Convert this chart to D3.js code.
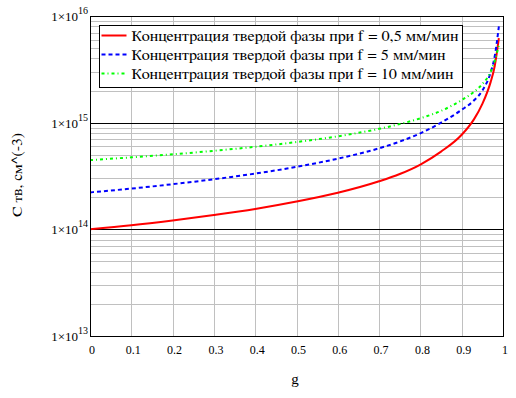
<!DOCTYPE html>
<html>
<head>
<meta charset="utf-8">
<script src="https://cdn.jsdelivr.net/npm/d3@7"></script>
<style>
  body { margin: 0; background: #fff; }
</style>
</head>
<body>
<div id="chart"></div>
<script>
// доля закристаллизованного вещества g
const gValues = [0, 0.1, 0.2, 0.3, 0.4, 0.5, 0.6, 0.7, 0.75, 0.8, 0.85, 0.9, 0.93, 0.95, 0.97, 0.98, 0.99];

// концентрация твердой фазы, см^-3
const cF05 = [1.00e14, 1.09e14, 1.21e14, 1.36e14, 1.55e14, 1.82e14, 2.20e14, 2.82e14, 3.30e14, 4.05e14, 5.35e14, 7.70e14, 1.08e15, 1.50e15, 2.40e15, 3.40e15, 6.20e15];
const cF5 = [2.22e14, 2.41e14, 2.65e14, 2.95e14, 3.33e14, 3.85e14, 4.60e14, 5.75e14, 6.65e14, 7.95e14, 1.00e15, 1.32e15, 1.62e15, 2.00e15, 2.95e15, 4.20e15, 8.00e15];
const cF10 = [4.46e14, 4.73e14, 5.05e14, 5.45e14, 5.94e14, 6.58e14, 7.45e14, 8.75e14, 9.70e14, 1.10e15, 1.29e15, 1.63e15, 1.95e15, 2.30e15, 3.00e15, 3.80e15, 5.30e15];

const seriesNames = [
  'Концентрация твердой фазы при f = 0,5 мм/мин',
  'Концентрация твердой фазы при f = 5 мм/мин',
  'Концентрация твердой фазы при f = 10 мм/мин'
];
const xTicks = [0, 0.1, 0.2, 0.3, 0.4, 0.5, 0.6, 0.7, 0.8, 0.9, 1];
const yDecades = [13, 14, 15, 16];

// Liberation Serif здесь без кириллицы, поэтому для русских подписей — FreeSerif
const FONT = '"Liberation Serif", serif';
const FONT_RU = 'FreeSerif, "Liberation Serif", serif';

const margin = { top: 16, right: 13, bottom: 62, left: 90 },
  width = 516 - margin.left - margin.right,
  height = 398 - margin.top - margin.bottom;

const svg = d3.select('#chart').append('svg')
  .attr('width', 516)
  .attr('height', 398)
  .attr('font-family', FONT);
const g = svg.append('g')
  .attr('transform', 'translate(' + margin.left + ',' + margin.top + ')');

const xScale = d3.scaleLinear().domain([0, 1]).range([0, width]);
const yScale = d3.scaleLog().domain([1e13, 1e16]).range([height, 0]);

// сетка: промежуточные линии (2..9 в каждой декаде)
const minor = [];
yDecades.slice(0, -1).forEach(e => {
  for (let m = 2; m <= 9; m++) minor.push(m * Math.pow(10, e));
});
g.append('g').selectAll('line.minor')
  .data(minor).enter().append('line')
  .attr('x1', 0).attr('x2', width)
  .attr('y1', d => Math.round(yScale(d)) + 0.5)
  .attr('y2', d => Math.round(yScale(d)) + 0.5)
  .attr('stroke', '#c0c0c0').attr('stroke-width', 1);

g.append('g').selectAll('line.vx')
  .data(xTicks.slice(1, -1)).enter().append('line')
  .attr('x1', d => Math.round(xScale(d)) + 0.5)
  .attr('x2', d => Math.round(xScale(d)) + 0.5)
  .attr('y1', 0).attr('y2', height)
  .attr('stroke', '#c0c0c0').attr('stroke-width', 1);

// декады — черные линии
g.append('g').selectAll('line.major')
  .data(yDecades.slice(1, -1)).enter().append('line')
  .attr('x1', 0).attr('x2', width)
  .attr('y1', d => Math.round(yScale(Math.pow(10, d))) + 0.5)
  .attr('y2', d => Math.round(yScale(Math.pow(10, d))) + 0.5)
  .attr('stroke', '#000').attr('stroke-width', 1);

// оси
const xAxis = d3.axisBottom(xScale).tickValues(xTicks).tickSize(0).tickPadding(9)
  .tickFormat(d => String(d));
const gx = g.append('g')
  .attr('transform', 'translate(0,' + height + ')')
  .call(xAxis)
  .attr('font-family', FONT)
  .attr('font-size', 12);
gx.select('.domain').remove();
gx.selectAll('text')
  .attr('dx', '1.5')
  .attr('fill', '#000');

const yLabels = g.append('g');
yDecades.forEach(e => {
  const t = yLabels.append('text')
    .attr('x', -2)
    .attr('y', yScale(Math.pow(10, e)) + 5)
    .attr('text-anchor', 'end')
    .attr('font-size', 13);
  t.append('tspan').text('1×10');
  t.append('tspan').attr('dy', -7).attr('font-size', 10).text(String(e));
});

// линии
const lineGen = d3.line()
  .x(d => xScale(d[0]))
  .y(d => yScale(d[1]))
  .curve(d3.curveMonotoneX);

const series = [
  { values: cF05, color: '#ff0000', dash: null, textW: 327 },
  { values: cF5, color: '#0000ff', dash: '4,3', textW: 314 },
  { values: cF10, color: '#00ff00', dash: '3,3,1,3', textW: 322 }
];

g.append('defs').append('clipPath').attr('id', 'clip')
  .append('rect').attr('width', width).attr('height', height);

series.forEach(s => {
  g.append('path')
    .attr('clip-path', 'url(#clip)')
    .attr('d', lineGen(gValues.map((x, i) => [x, s.values[i]])))
    .attr('fill', 'none')
    .attr('stroke', s.color)
    .attr('stroke-width', 2)
    .attr('stroke-dasharray', s.dash);
});

// рамка
g.append('rect')
  .attr('x', 0.5).attr('y', 0.5)
  .attr('width', width).attr('height', height)
  .attr('fill', 'none').attr('stroke', '#000').attr('stroke-width', 1);

// легенда
const legend = g.append('g').attr('transform', 'translate(9.5,9.5)');
legend.append('rect')
  .attr('width', 363).attr('height', 62)
  .attr('fill', '#fff').attr('stroke', '#000').attr('stroke-width', 1);
series.forEach((s, i) => {
  const y = 10 + i * 19;
  legend.append('line')
    .attr('x1', 2).attr('x2', 27).attr('y1', y).attr('y2', y)
    .attr('stroke', s.color).attr('stroke-width', 2)
    .attr('stroke-dasharray', s.dash);
  legend.append('text')
    .attr('x', 32).attr('y', y + 5)
    .attr('font-family', FONT_RU)
    .attr('font-size', 15)
    .attr('textLength', s.textW)
    .attr('lengthAdjust', 'spacingAndGlyphs')
    .text(seriesNames[i]);
});

// подписи осей
svg.append('text')
  .attr('transform', 'translate(22,175) rotate(-90)')
  .attr('text-anchor', 'middle')
  .attr('font-family', FONT_RU)
  .attr('font-size', 14)
  .attr('textLength', 84)
  .attr('lengthAdjust', 'spacingAndGlyphs')
  .text('C тв, см^(-3)');
svg.append('text')
  .attr('x', 295).attr('y', 384)
  .attr('text-anchor', 'middle')
  .attr('font-size', 15)
  .text('g');
</script>
</body>
</html>
